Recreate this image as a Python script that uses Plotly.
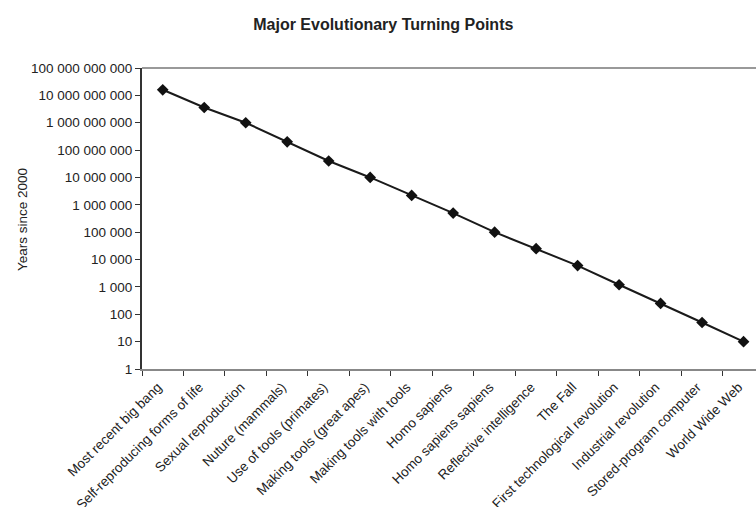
import plotly.graph_objects as go

categories = [
    "Most recent big bang",
    "Self-reproducing forms of life",
    "Sexual reproduction",
    "Nuture (mammals)",
    "Use of tools (primates)",
    "Making tools (great apes)",
    "Making tools with tools",
    "Homo sapiens",
    "Homo sapiens sapiens",
    "Reflective intelligence",
    "The Fall",
    "First technological revolution",
    "Industrial revolution",
    "Stored-program computer",
    "World Wide Web",
]
years_since_2000 = [1.6e10, 3.6e9, 1.0e9, 2.0e8, 4.0e7, 1.0e7, 2.2e6, 5.0e5,
                    1.0e5, 2.5e4, 6000, 1200, 250, 50, 10]

title_text = "Major Evolutionary Turning Points"
y_title = "Years since 2000"

fig = go.Figure()
fig.add_trace(go.Scatter(
    x=categories,
    y=years_since_2000,
    mode="lines+markers",
    line=dict(color="#1a1a1a", width=2),
    marker=dict(symbol="diamond", size=9, color="#111111"),
    showlegend=False,
))

fig.update_layout(
    width=756, height=507,
    paper_bgcolor="white", plot_bgcolor="white",
    margin=dict(l=142, r=0, t=68, b=138),
    separators=". ",
    title=dict(text="<b>%s</b>" % title_text, x=0.507, xanchor="center",
               y=1 - 24 / 507, yanchor="middle",
               font=dict(family="Liberation Sans, Arial", size=16, color="#222222")),
    font=dict(family="Liberation Sans, Arial", size=13.5, color="#222222"),
)

fig.update_yaxes(
    type="log", range=[0, 11], dtick=1, tickformat=",d",
    showgrid=False, zeroline=False, automargin=False,
    showline=True, linecolor="#333333", linewidth=2,
    ticks="outside", ticklen=5, tickcolor="#333333",
    tickfont=dict(size=13.5, color="#222222"),
    mirror=False,
)
fig.add_annotation(
    text=y_title, textangle=-90, showarrow=False,
    xref="paper", yref="paper", x=-120 / 614, y=0.495,
    xanchor="center", yanchor="middle",
    font=dict(size=13.5, color="#222222"),
)
fig.update_xaxes(
    type="category", range=[-0.5, 14.3],
    tickangle=-45, tickson="boundaries",
    ticklabelshift=-5, ticklabelstandoff=3,
    showgrid=False, zeroline=False, automargin=False,
    showline=True, linecolor="#888888", linewidth=2,
    ticks="outside", ticklen=5, tickcolor="#333333",
    tickfont=dict(size=13.5, color="#222222"),
)
# top border of plot area
fig.add_shape(type="line", xref="paper", yref="paper", x0=0, x1=1, y0=1, y1=1,
              line=dict(color="#999999", width=2))

fig.write_html("out.html", config={"displayModeBar": False},
               post_script="document.body.style.margin='0';")
